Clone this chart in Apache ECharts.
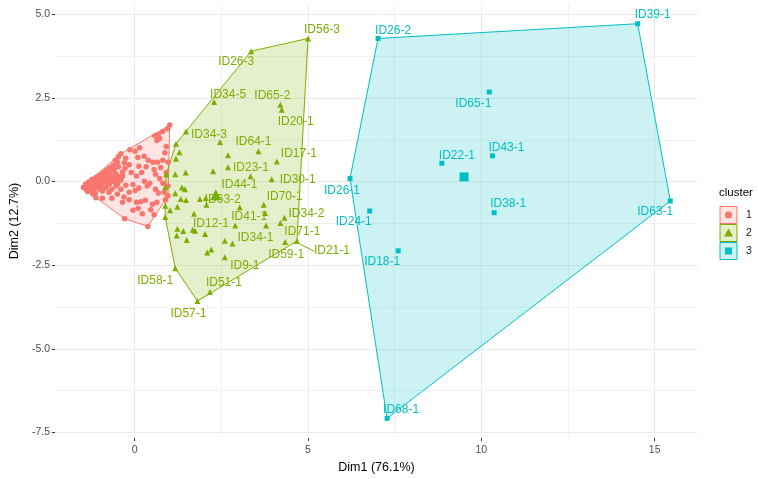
<!DOCTYPE html>
<html><head><meta charset="utf-8">
<script src="https://cdn.jsdelivr.net/npm/echarts@6/dist/echarts.min.js"></script>
<style>html,body{margin:0;padding:0;background:#fff}#c{width:758px;height:479px}</style>
</head><body><div id="c"></div>
<script>
// ---------- data ----------
const xTicks = [0, 5, 10, 15];
const xMinor = [2.5, 7.5, 12.5];
const yTicks = [-7.5, -5, -2.5, 0, 2.5, 5];
const yMinor = [-6.25, -3.75, -1.25, 1.25, 3.75];
const xTitle = 'Dim1 (76.1%)';
const yTitle = 'Dim2 (12.7%)';
const legendTitle = 'cluster';
const clusterNames = ['1', '2', '3'];

const cluster1 = [
  [1.01,1.69],[0.95,1.58],[0.81,1.50],[0.68,1.41],[0.58,1.37],[0.72,1.29],[0.64,1.23],[0.91,1.05],
  [0.87,0.86],[0.14,1.01],[0.01,0.91],[-0.14,0.95],[-0.40,0.83],[-0.47,0.74],[-0.26,0.70],[0.09,0.72],
  [0.27,0.76],[0.39,0.64],[0.53,0.58],[0.66,0.58],[0.81,0.64],[0.96,0.58],[0.12,0.46],[0.33,0.44],
  [0.56,0.36],[0.75,0.42],[0.91,0.27],[0.60,0.22],[0.72,0.09],[0.81,-0.05],[0.96,-0.13],[-0.16,0.50],
  [-0.28,0.40],[-0.35,0.29],[-0.10,0.27],[0.05,0.17],[0.20,0.27],[0.28,0.01],[0.43,-0.05],[0.60,-0.23],
  [0.68,-0.34],[0.85,-0.32],[0.96,-0.42],[0.89,-0.54],[0.36,-0.13],[0.12,-0.19],[-0.05,-0.09],[0.01,-0.27],
  [-0.26,-0.11],[-0.16,-0.32],[-0.40,-0.23],[-0.54,-0.13],[-0.74,-0.32],[-0.50,-0.37],[-0.66,-0.50],[-0.93,-0.50],
  [-1.12,-0.48],[-0.31,-0.46],[-0.16,-0.54],[-0.35,-0.62],[0.05,-0.62],[0.18,-0.60],[0.31,-0.56],[0.51,-0.68],
  [0.64,-0.62],[-0.05,-0.86],[0.10,-0.80],[-0.29,-1.11],[0.38,-1.34],[0.22,-0.96],[0.46,-0.84],[0.56,-0.99],
  [-1.48,-0.18],[-1.42,-0.08],[-1.40,-0.23],[-1.33,-0.01],[-1.29,-0.15],[-1.23,0.07],[-1.19,-0.08],[-1.17,-0.23],
  [-1.12,0.12],[-1.10,-0.01],[-1.04,-0.13],[-1.02,0.19],[-0.97,0.05],[-0.95,-0.08],[-0.91,0.27],[-0.88,0.12],
  [-0.85,-0.01],[-0.81,0.34],[-0.78,0.19],[-0.75,0.07],[-0.72,0.41],[-0.69,0.27],[-0.64,0.12],[-0.62,0.48],
  [-0.59,0.36],[-0.54,0.22],[-0.50,0.58],[-0.47,0.44],[-0.74,-0.08],[-0.83,-0.18],[-1.00,-0.23],[-1.26,-0.28],
  [-1.14,-0.34],[-0.59,-0.01],[-0.45,0.07],[-0.35,0.17],[-0.56,0.64],[-0.30,0.56],[-0.40,0.05],[-0.93,-0.28],
  [-1.21,-0.37],[-1.36,-0.30],[-0.66,-0.23],[-0.50,-0.08],[-1.13,-0.15],[-1.06,0.05],[-0.89,0.17],[-0.77,0.28],
  [-0.70,0.01],[-0.96,-0.15]
];

const cluster2 = [
  [5.00,4.28,'ID56-3'],[3.36,3.90,'ID26-3'],[2.29,2.38,'ID34-5'],[4.20,2.30,'ID65-2'],[4.24,2.15,'ID20-1'],
  [1.48,1.50,'ID34-3'],[3.57,0.91,'ID64-1'],[4.10,0.60,'ID17-1'],[2.69,0.43,'ID23-1'],[3.95,0.07,'ID30-1'],
  [3.34,0.16,'ID44-1'],[3.72,-0.69,'ID70-1'],[2.05,-0.49,'ID63-2'],[2.90,-1.31,'ID41-1'],[4.32,-1.08,'ID34-2'],
  [1.71,-0.96,'ID12-1'],[4.20,-1.24,'ID71-1'],[4.68,-1.78,'ID21-1'],[4.34,-1.81,'ID59-1'],[2.82,-1.85,'ID34-1'],
  [2.60,-2.26,'ID9-1'],[2.17,-3.30,'ID51-1'],[1.17,-2.59,'ID58-1'],[1.81,-3.57,'ID57-1'],
  [1.19,1.13,''],[1.29,0.88,''],[1.19,0.68,''],[2.46,1.18,''],[2.69,0.79,''],[2.26,0.31,''],[1.47,0.27,''],
  [1.17,0.22,''],[0.91,0.22,''],[0.88,-0.16,''],[1.36,-0.18,''],[1.45,-0.23,''],[1.17,-0.35,''],[1.33,-0.52,''],
  [1.48,-0.55,''],[1.88,-0.52,''],[2.07,-0.69,''],[0.88,-0.72,''],[1.02,-0.86,''],[1.23,-0.75,''],[0.88,-1.06,''],
  [1.23,-1.41,''],[1.40,-1.48,''],[1.67,-1.44,''],[1.74,-1.47,''],[2.03,-1.57,''],[1.21,-1.61,''],[1.50,-1.75,''],
  [2.60,-1.77,''],[3.03,-0.77,''],[3.76,-0.94,''],[3.79,-1.31,''],[2.09,-2.12,''],[2.21,-2.03,'']
];

const cluster3 = [
  [7.02,4.28,'ID26-2'],[14.51,4.72,'ID39-1'],[15.45,-0.58,'ID63-1'],[7.28,-7.08,'ID68-1'],
  [6.21,0.09,'ID26-1'],[10.23,2.68,'ID65-1'],[8.86,0.55,'ID22-1'],[10.32,0.77,'ID43-1'],
  [10.37,-0.93,'ID38-1'],[6.78,-0.88,'ID24-1'],[7.60,-2.07,'ID18-1']
];

const centroids = [[-0.45,0.08],[2.34,-0.39],[9.50,0.14]];

// ---------- layout / style ----------
const colors = ['#F8766D', '#7CAE00', '#00BFC4'];
const fills = ['rgba(248,118,109,0.2)', 'rgba(124,174,0,0.2)', 'rgba(0,191,196,0.2)'];
const FONT = 'Liberation Sans, Arial, sans-serif';
// label offsets in pixels (ggrepel placement)
const labelOffsets = {
  'ID56-3':[14,-9],'ID26-3':[-15,11],'ID34-5':[14,-7],'ID65-2':[-8,-9],'ID20-1':[14,12],
  'ID34-3':[23,3],'ID64-1':[-5,-9],'ID17-1':[22,-8],'ID23-1':[23,0],'ID30-1':[26,0],
  'ID44-1':[-11,8],'ID70-1':[21,-8],'ID63-2':[17,2],'ID41-1':[14,-9],'ID34-2':[22,-4],
  'ID12-1':[17,10],'ID71-1':[22,9],'ID21-1':[35,10],'ID59-1':[1,13],'ID34-1':[23,-6],
  'ID9-1':[20,9],'ID51-1':[14,-9],'ID58-1':[-20,12],'ID57-1':[-9,13],
  'ID26-2':[15,-8],'ID39-1':[15,-9],'ID63-1':[-15,11],'ID68-1':[14,-9],'ID26-1':[-8,12],
  'ID65-1':[-16,12],'ID22-1':[15,-8],'ID43-1':[14,-8],'ID38-1':[14,-9],'ID24-1':[-16,11],'ID18-1':[-16,11]
};
const segmentLabels = ['ID21-1'];

// convex hull (monotone chain)
function hull(pts) {
  const p = pts.map(a => [a[0], a[1]]).sort((a, b) => a[0] - b[0] || a[1] - b[1]);
  const cross = (o, a, b) => (a[0]-o[0])*(b[1]-o[1]) - (a[1]-o[1])*(b[0]-o[0]);
  const lo = [], up = [];
  for (const q of p) { while (lo.length >= 2 && cross(lo[lo.length-2], lo[lo.length-1], q) <= 0) lo.pop(); lo.push(q); }
  for (let i = p.length - 1; i >= 0; i--) { const q = p[i]; while (up.length >= 2 && cross(up[up.length-2], up[up.length-1], q) <= 0) up.pop(); up.push(q); }
  up.pop(); lo.pop();
  return lo.concat(up);
}
const clusters = [cluster1, cluster2, cluster3];
const hulls = clusters.map(hull);

const chart = echarts.init(document.getElementById('c'), null, {renderer: 'canvas'});

function labeledSeries(data, ci, symbol, size) {
  return {
    type: 'scatter', xAxisIndex: 0, yAxisIndex: 0,
    symbol: symbol, symbolSize: size,
    itemStyle: {color: colors[ci], opacity: 1},
    data: data.map(d => {
      const item = {name: d[2], value: [d[0], d[1]]};
      if (segmentLabels.indexOf(d[2]) >= 0) item.labelLine = {show: true, lineStyle: {color: colors[ci], width: 1}};
      return item;
    }),
    label: {show: true, position: 'inside', formatter: p => p.name, color: colors[ci], fontSize: 12, fontFamily: FONT},
    labelLine: {show: false, smooth: false, length2: 0},
    labelLayout: function (params) {
      const nm = data[params.dataIndex][2];
      const off = labelOffsets[nm] || [0, 0];
      return {dx: off[0], dy: off[1]};
    },
    emphasis: {disabled: true},
    z: 4, animation: false, silent: true
  };
}

const legendItems = [];
clusterNames.forEach((n, i) => {
  const y0 = 206.5 + 18 * i, cx = 728.5, cy = y0 + 8.5;
  legendItems.push({type: 'rect', shape: {x: 720, y: y0, width: 17, height: 17}, style: {fill: fills[i], stroke: colors[i], lineWidth: 1}});
  if (i === 0) legendItems.push({type: 'circle', shape: {cx: cx, cy: cy, r: 3.6}, style: {fill: colors[i]}});
  if (i === 1) legendItems.push({type: 'polygon', shape: {points: [[cx, cy - 4.5], [cx + 4.5, cy + 3.5], [cx - 4.5, cy + 3.5]]}, style: {fill: colors[i]}});
  if (i === 2) legendItems.push({type: 'rect', shape: {x: cx - 3.5, y: cy - 3.5, width: 7, height: 7}, style: {fill: colors[i]}});
  legendItems.push({type: 'text', x: 746, y: cy, style: {text: n, fill: '#1a1a1a', fontSize: 10.5, fontFamily: FONT, verticalAlign: 'middle', align: 'left'}});
});
legendItems.push({type: 'text', x: 719, y: 193, style: {text: legendTitle, fill: '#000', fontSize: 11.5, fontFamily: FONT, verticalAlign: 'middle', align: 'left'}});

const X_MIN = -2.3, X_MAX = 16.25, Y_MIN = -7.67, Y_MAX = 5.31;
const gridLine = {show: true, lineStyle: {color: '#ebebeb', width: 1}};
const minorLine = {show: true, lineStyle: {color: '#f2f2f2', width: 1}};

chart.setOption({
  backgroundColor: '#fff',
  animation: false,
  grid: {left: 50, right: 60, top: 4, bottom: 35, containLabel: false},
  xAxis: [
    {type: 'value', min: X_MIN, max: X_MAX, name: xTitle, nameLocation: 'middle', nameGap: 17,
     nameTextStyle: {color: '#000', fontSize: 12.5, fontFamily: FONT},
     axisLine: {show: false, onZero: false},
     axisTick: {show: true, length: 3, customValues: xTicks, lineStyle: {color: '#333'}},
     axisLabel: {show: true, customValues: xTicks, margin: 7, color: '#4d4d4d', fontSize: 10.5, fontFamily: FONT, formatter: v => String(v)},
     splitLine: gridLine, z: 0},
    {type: 'value', min: X_MIN, max: X_MAX, position: 'bottom', axisLine: {show: false, onZero: false},
     axisTick: {show: false, customValues: xMinor}, axisLabel: {show: false, customValues: xMinor},
     splitLine: minorLine, z: 0}
  ],
  yAxis: [
    {type: 'value', min: Y_MIN, max: Y_MAX, name: yTitle, nameLocation: 'middle', nameGap: 24, nameRotate: 90,
     nameTextStyle: {color: '#000', fontSize: 12.5, fontFamily: FONT},
     axisLine: {show: false, onZero: false},
     axisTick: {show: true, length: 3, customValues: yTicks, lineStyle: {color: '#333'}},
     axisLabel: {show: true, customValues: yTicks, margin: 5, color: '#4d4d4d', fontSize: 10.5, fontFamily: FONT, formatter: v => v.toFixed(1)},
     splitLine: gridLine, z: 0},
    {type: 'value', min: Y_MIN, max: Y_MAX, position: 'left', axisLine: {show: false, onZero: false},
     axisTick: {show: false, customValues: yMinor}, axisLabel: {show: false, customValues: yMinor},
     splitLine: minorLine, z: 0}
  ],
  series: [
    {type: 'custom', coordinateSystem: 'cartesian2d', xAxisIndex: 0, yAxisIndex: 0, silent: true, z: 1,
     data: hulls.map((h, i) => [i]), encode: {x: 0},
     renderItem: function (params, api) {
       const i = params.dataIndex;
       const pts = hulls[i].map(p => api.coord(p));
       return {type: 'polygon', shape: {points: pts}, style: {fill: fills[i], stroke: colors[i], lineWidth: 1}};
     }},
    {type: 'scatter', xAxisIndex: 0, yAxisIndex: 0, symbol: 'circle', symbolSize: 5.5,
     itemStyle: {color: colors[0], opacity: 1}, data: cluster1.map(d => [d[0], d[1]]), z: 3, silent: true, emphasis: {disabled: true}},
    labeledSeries(cluster2, 1, 'triangle', 6),
    labeledSeries(cluster3, 2, 'rect', 5),
    {type: 'scatter', xAxisIndex: 0, yAxisIndex: 0, symbolSize: 10, z: 5, silent: true, emphasis: {disabled: true},
     data: centroids.map((c, i) => ({value: c, symbol: ['circle', 'triangle', 'rect'][i], symbolSize: [9, 11, 9][i], itemStyle: {color: colors[i], opacity: 1}}))}
  ],
  graphic: legendItems
});
</script>
</body></html>
